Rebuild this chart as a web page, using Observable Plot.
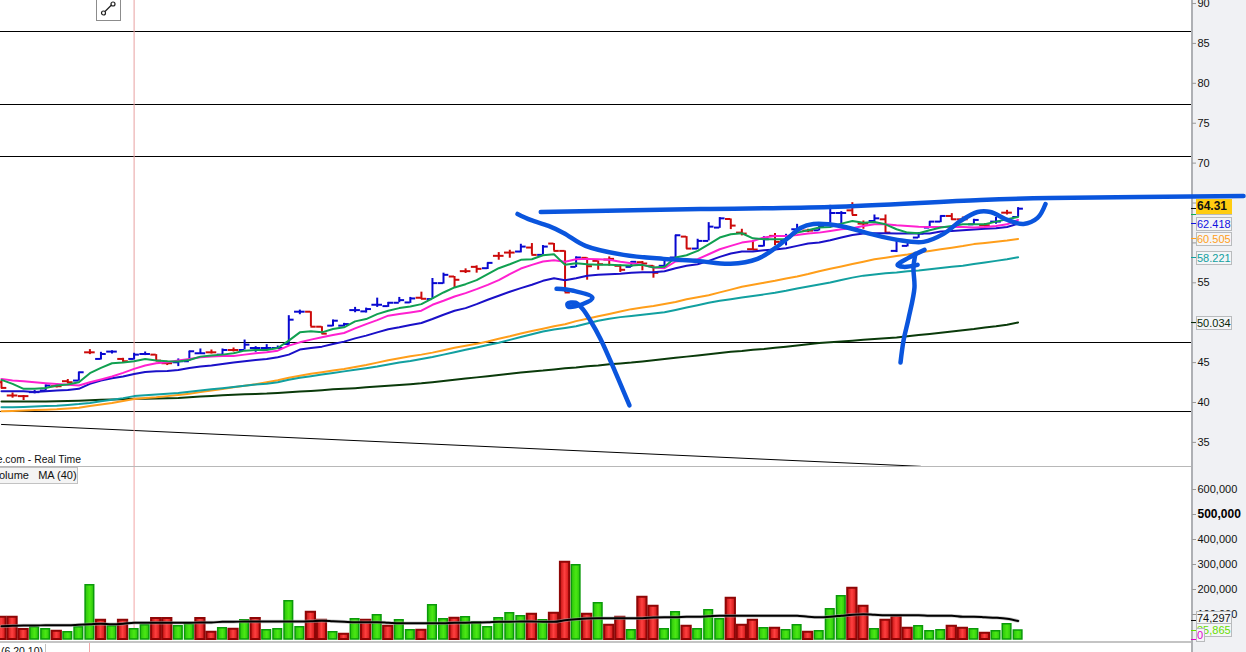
<!DOCTYPE html>
<html><head><meta charset="utf-8">
<script src="https://cdn.jsdelivr.net/npm/d3@7"></script>
<script src="https://cdn.jsdelivr.net/npm/@observablehq/plot@0.6"></script>
<style>
html,body{margin:0;padding:0;background:#fff;overflow:hidden}
#root{position:relative;width:1246px;height:652px;overflow:hidden;font-family:"Liberation Sans",Arial,sans-serif;color:#111}
#panel{position:absolute;left:1191px;top:0;width:55px;height:652px;background:#f0f1f4;border-left:2px solid #aeb0b4;box-sizing:border-box}
#priceBox,#volBox{position:absolute;left:0;width:1246px}
#priceBox{top:0;height:466px}#volBox{top:466px;height:186px}
svg{display:block;overflow:visible;background:transparent !important}
.tag{position:absolute;box-sizing:border-box;background:#f4f5f7;border:1px solid #b9bbbd;font-size:11px;line-height:12px;padding:0;white-space:nowrap;overflow:hidden;text-align:left}
.lab{position:absolute;white-space:nowrap;font-size:10.4px}
</style></head><body>
<div id="root"><div id="panel"></div><div id="priceBox"></div><div id="volBox"></div></div>
<script>
const barSide="rrrbbrrbrbbrbbrrbbbrbrbbbbbbrrbbbbbbbbrbbrrrbrrbrbrrbrrrrbrrbbrbbbrrrbrbbrbbbrrbrbbbbbrrbrbrb";
const open=[42.54,40.88,40.8,41.3,41.5,42.04,42.67,42.75,46.29,45.46,46.38,45.46,45.46,46.08,46,44.92,45.04,45.17,46.17,46.29,46,46.58,46.58,46.83,46.83,46.83,47.33,51.38,51.38,49.5,49.63,49.63,51.58,51.42,52.25,52.08,52.5,52.54,53.13,52.96,54.96,55.79,56.46,57,56.83,58.38,58.79,58.92,59.42,58.5,59.92,59,57,58.13,57.75,57.92,57.13,57,57.58,57.13,57.13,58.17,60.79,59.29,60.25,61.92,63,61.29,59.21,59.63,60.88,60.25,61.71,61.54,61.58,62.46,63.75,64.08,62.42,62.75,62.96,59,59.63,60.67,61.92,62.67,63.38,62.96,62.33,62.21,62.67,63.79,63.25];
const high=[42.75,41.2,40.88,41.5,42.2,42.33,42.88,43.79,46.63,46.29,46.5,45.54,46.17,46.33,46,45.17,45.46,46.42,46.71,46.58,46.71,46.83,47.83,47,47.25,47.08,50.88,51.58,51.38,49.5,50.33,49.92,51.92,51.83,53.08,52.54,53.17,53.17,53.83,55.54,56.21,55.79,56.75,57.13,57.5,58.79,59.08,59.83,59.92,59.67,59.92,59,58.25,58.13,57.75,58.25,57.25,57.67,57.67,57.13,57.96,60.96,60.79,60.46,62.54,63.17,63,61.71,60.25,60.79,61.17,61.08,62.33,61.71,62.13,64.71,63.92,65.04,62.75,63.5,63.5,60.25,60.13,61.29,62.67,63.38,63.67,63.25,62.96,62.42,63.17,64.08,64.42];
const low=[41.7,40.54,40.25,41.08,41.42,41.83,42.33,42.67,46,45.33,46.08,45.04,45.33,45.88,45.17,44.63,44.5,45.17,46.08,46.08,45.88,46.33,46.58,46.29,46.58,46.71,47.13,51,49.5,48.58,49.5,49.5,51.25,51.21,51.92,51.92,52.5,52.42,52.92,52.92,54.83,54.33,56.17,56.21,56.67,57.83,58.08,58.75,58.5,58.5,59,53.79,56.92,55.33,56.58,57.08,56.29,56.92,56.5,55.58,57,58.17,59.21,59.17,60.25,61.83,61.67,60.88,59.08,59.5,59.63,59.63,61.29,61.29,61.5,62.46,62.33,63.5,61.71,62.54,61.17,58.79,59.5,60.58,61.83,62.54,62.83,62.67,62.21,62,62.33,63.5,63.17];
const close=[41.83,40.88,40.8,41.3,42.13,42.04,42.54,43.79,46.29,46.08,46.38,45.17,46,46.08,45.25,44.92,45.17,46.42,46.17,46.29,46.58,46.58,47.25,46.83,46.83,46.83,50.38,51.38,49.5,48.63,50.25,49.83,51.58,51.71,52.25,52.5,52.83,53.04,53,54.96,56,55.38,56.46,56.75,57.5,58.38,58.79,59.54,58.5,59.54,59,53.79,58.17,57.08,57.33,58,56.63,57.63,57.42,56.25,57.83,60.96,59.29,60.25,62.04,63.08,62.17,61.17,59.17,60.46,60.13,60.67,61.71,61.54,62,63.75,63.75,63.5,62.42,63.08,61.29,60.25,60.13,61.17,62.67,63.38,62.96,62.96,62.88,62.21,62.67,63.79,64.29];

const maGreen=[42.83,42.33,41.71,41.71,41.83,42.13,42.25,42.54,43.67,44.33,44.92,45,45.17,45.46,45.25,45.17,45.13,45.33,45.75,45.88,46,46.17,46.5,46.58,46.58,46.83,47.75,48.79,48.92,48.79,49.21,49.42,50.17,50.46,51.08,51.5,51.83,52.04,52.33,53.04,53.79,54.42,54.83,55.33,56.08,56.83,57.33,57.88,57.96,58.46,58.58,57.25,57.46,57.33,57.25,57.25,57.21,57.17,57.25,56.92,57,58.17,58.46,59,59.83,60.67,61.08,61.21,60.58,60.46,60.46,60.46,61.29,61.58,61.92,62,62.42,62.75,62.54,62.63,62.33,61.71,61.29,61.21,61.58,61.92,62.13,62.33,62.33,62.33,62.67,62.96,63.25];
const maMagenta=[42.96,42.75,42.67,42.54,42.42,42.33,42.21,42.13,42.54,42.88,43.25,43.71,44.21,44.63,44.92,45.04,45.25,45.46,45.67,45.75,45.83,45.83,46,46.17,46.29,46.5,47.13,47.54,47.88,48.17,48.46,48.71,49.29,49.83,50.33,50.88,51.08,51.29,51.5,52.25,52.75,53.29,53.71,54.21,54.75,55.33,56.08,56.79,57.25,57.67,57.83,57.63,57.96,58,57.96,57.88,57.63,57.46,57.25,56.92,56.83,57.67,57.75,57.96,58.58,59.21,59.63,60.04,60.25,60.67,60.88,60.88,61,61.17,61.29,61.5,61.71,61.83,62.13,62.33,62.33,62.21,62.13,62.04,62,62,62,62,61.92,62,62.13,62.33,62.88];
const maBlue=[41.42,41.42,41.42,41.33,41.42,41.5,41.58,41.71,42.33,42.75,43.04,43.25,43.58,43.83,43.92,43.96,44.08,44.33,44.5,44.63,44.83,45,45.17,45.33,45.46,45.67,46,46.63,46.83,47,47.33,47.63,48.04,48.38,48.79,49.17,49.42,49.71,49.96,50.46,51,51.5,51.83,52.33,52.88,53.38,53.88,54.33,54.75,55.25,55.58,55.33,55.58,55.88,56,56.08,56.13,56.25,56.33,56.33,56.46,56.83,57.13,57.33,57.75,58.25,58.67,58.92,58.92,59.08,59.17,59.33,59.63,59.92,60.04,60.33,60.67,61,61.17,61.21,61.21,61.17,61.17,61.17,61.17,61.42,61.5,61.58,61.67,61.79,61.83,62,62.42];
const maOrange=[38.9,38.95,39,39.05,39.1,39.15,39.25,39.35,39.55,39.75,39.95,40.2,40.45,40.55,40.65,40.8,40.95,41.1,41.3,41.5,41.7,41.9,42.1,42.3,42.55,42.8,43.1,43.35,43.6,43.8,44,44.2,44.45,44.7,45,45.3,45.55,45.8,46,46.25,46.55,46.85,47.1,47.35,47.65,48,48.3,48.65,48.95,49.25,49.55,49.8,50.2,50.5,50.8,51.1,51.4,51.7,51.9,52.1,52.35,52.6,52.95,53.2,53.45,53.8,54.15,54.5,54.75,55,55.25,55.55,55.8,56.1,56.45,56.75,57.05,57.35,57.65,57.95,58.15,58.35,58.55,58.8,59,59.2,59.4,59.6,59.85,60,60.15,60.3,60.5];
const maTeal=[39.4,39.42,39.45,39.5,39.55,39.6,39.7,39.8,39.95,40.15,40.35,40.55,40.8,40.9,41,41.1,41.2,41.35,41.5,41.65,41.8,41.95,42.1,42.25,42.35,42.55,42.85,43.1,43.3,43.5,43.7,43.9,44.1,44.3,44.5,44.75,45,45.2,45.45,45.7,46,46.3,46.6,46.9,47.2,47.5,47.85,48.2,48.55,48.9,49.15,49.35,49.55,49.9,50.25,50.5,50.7,50.85,51,51.15,51.3,51.6,51.9,52.2,52.5,52.75,52.95,53.15,53.35,53.55,53.75,54,54.3,54.55,54.8,55.05,55.35,55.65,55.9,56.05,56.2,56.3,56.45,56.55,56.7,56.85,57,57.15,57.35,57.55,57.75,57.95,58.2];
const maDark=[40.13,40.13,40.13,40.13,40.13,40.15,40.18,40.22,40.27,40.33,40.38,40.42,40.46,40.48,40.5,40.53,40.57,40.65,40.75,40.82,40.9,40.97,41.03,41.08,41.12,41.2,41.3,41.38,41.45,41.55,41.65,41.72,41.8,41.9,42,42.1,42.2,42.3,42.4,42.55,42.7,42.85,43,43.15,43.3,43.45,43.6,43.75,43.9,44,44.15,44.3,44.4,44.55,44.65,44.8,44.9,45,45.15,45.3,45.45,45.6,45.75,45.9,46.05,46.2,46.35,46.45,46.6,46.7,46.85,47,47.15,47.3,47.45,47.55,47.65,47.75,47.85,47.95,48.05,48.15,48.3,48.45,48.6,48.75,48.9,49.05,49.2,49.4,49.55,49.75,50.03];

const volSide="rrrggrgggrgrggrrggrrgrgrggggrrgrgrgrggrggrggggggrgrrgrgrrgrrggrgggrrrgrggrgggrrgrrrgggrrgrggg";
const volumeK=[89,89,40,49,41,33,29,49,217,77,53,77,41,57,84,84,53,61,84,29,45,41,77,84,37,41,153,49,109,77,29,21,81,77,97,53,77,37,37,137,81,85,89,69,49,85,105,93,101,77,105,309,297,101,145,57,89,37,169,133,41,109,53,41,117,81,165,57,77,45,45,37,57,29,33,121,173,205,133,41,77,93,45,53,33,37,53,45,41,25,33,61,36];
const volMaK=[53,55,56,56,57,57,57,59,61,63,61,63,67,67,67,67,67,67,68,68,71,71,72,72,72,72,72,72,73,75,73,71,69,69,69,67,65,65,65,65,65,67,67,68,69,71,71,72,72,71,71,77,81,84,85,85,85,85,85,88,89,89,91,91,93,95,95,95,95,95,95,95,95,91,89,91,95,99,101,99,97,97,97,97,95,95,95,91,91,89,87,83,74.3];

const levels=[86.495,77.346,70.829,47.518,38.87];
const trendK=[0,83.17];const trendP=[37.25,32];
const priceTicks=[35,40,45,50,55,60,65,70,75,80,85,90];
const volTicks=[100000,200000,300000,400000,600000];

const inkTopK=[48.8,63.26,75.02,88.6,94.9,112.4];
const inkTopP=[63.88,64.25,64.5,65.38,65.63,65.88];
const inkWaveK=[46.7,47.87,49.5,50.86,52.85,56.3,59.91,62.99,65.97,68.42,70.05,71.4,72.3,73.48,75.93,78.64,81.09,83.44,85.25,86.79,88.33,89.5,91.04,92.49,93.76,94.48];
const inkWaveP=[63.63,62.88,62.13,61.25,59.63,58.5,58,57.75,57.38,58,59.38,60.88,61.88,62.38,62.13,61.13,60.38,60.13,61.13,62.75,63.88,63.88,62.88,62.38,63.13,64.88];
const inkArrowK=[50.23,51.76,53.48,52.67,51.31,51.22,51.95,52.58,53.3,54.2,55.57,56.83];
const inkArrowP=[54.25,54,53.13,52.38,52,52.38,52.5,51.75,50.25,48,43.75,39.63];
const inkFourK=[83.53,82.08,81.09,81.63,82.9];
const inkFourP=[59.13,58.13,57.25,57,57.25];
const inkStemK=[82.71,82.53,82.62,82.08,81.63,81.36];
const inkStemP=[58.63,56.88,54.38,50.5,47.75,45];

const priceTags=[
 {v:63.6,t:"63.909",c:"#10b050",off:-6},
 {v:62.418,t:"62.418",c:"#1010e0",off:1},
 {v:60.505,t:"60.505",c:"#ff9e1a",off:1},
 {v:58.221,t:"58.221",c:"#10a0a0",off:1},
 {v:50.034,t:"50.034",c:"#0a2a0a",off:1},
 {v:64.31,t:"64.31",c:"#111",off:-2,bold:true,bg:"#ffcc10"}];
const volTags=[
 {v:74297,t:"74,297",c:"#111",off:-2},
 {v:35865,t:"35,865",c:"#66dd00",off:0},
 {v:0,t:"0",c:"#e000d0",off:-4,w:9}];

const idx=d3.range(open.length);
const pitch=11.05;
const xDomain=[-1/pitch,(1191-1)/pitch];
const pts=(k,p)=>k.map((d,i)=>({k:d,p:p[i]}));
const maLine=(arr,stroke)=>Plot.line(idx,{x:i=>i,y:i=>arr[i],stroke,strokeWidth:2});
const ink=(k,p)=>Plot.line(pts(k,p),{x:"k",y:"p",stroke:"#0a55dd",strokeWidth:4.5,curve:"catmull-rom",strokeLinecap:"round"});
const sideColor=i=>barSide[i]==="b"?"#0808d0":"#cc0a0a";

const pricePlot=Plot.plot({
  width:1246,height:466,marginLeft:0,marginRight:55,marginTop:0,marginBottom:0,
  style:{fontFamily:"'Liberation Sans',Arial,sans-serif",fontSize:"11px",background:"transparent",overflow:"visible"},
  x:{domain:xDomain,axis:null},
  y:{domain:[31.98,90.38],axis:null},
  marks:[
    Plot.ruleY(levels,{stroke:"#000",strokeWidth:1}),
    Plot.line(pts(trendK,trendP),{x:"k",y:"p",stroke:"#000",strokeWidth:1}),
    Plot.ruleX([12],{stroke:"#e8a0a0",strokeWidth:1}),
    Plot.ruleX(idx,{x:i=>i,y1:i=>low[i],y2:i=>high[i],stroke:sideColor,strokeWidth:2}),
    Plot.ruleY(idx,{x1:i=>i-0.48,x2:i=>i,y:i=>open[i],stroke:sideColor,strokeWidth:2}),
    Plot.ruleY(idx,{x1:i=>i,x2:i=>i+0.48,y:i=>close[i],stroke:sideColor,strokeWidth:2}),
    maLine(maDark,"#0a3a0a"),
    maLine(maOrange,"#ff9e1a"),
    maLine(maTeal,"#12a0a0"),
    maLine(maBlue,"#1a10c8"),
    maLine(maMagenta,"#ff20d0"),
    maLine(maGreen,"#10a050"),
    ink(inkTopK,inkTopP),ink(inkWaveK,inkWaveP),ink(inkArrowK,inkArrowP),ink(inkFourK,inkFourP),ink(inkStemK,inkStemP),
    Plot.axisY({anchor:"right",ticks:priceTicks,tickSize:4,tickPadding:2,stroke:"#999",fill:"#111",fontSize:11,tickFormat:d=>d,label:null})
  ]});
document.getElementById("priceBox").append(pricePlot);

const volumes=idx.map(i=>({i,v:volumeK[i]*1000,s:volSide[i]}));
const volPlot=Plot.plot({
  width:1246,height:186,marginLeft:0,marginRight:55,marginTop:0,marginBottom:13,
  style:{fontFamily:"'Liberation Sans',Arial,sans-serif",fontSize:"11px",background:"transparent",overflow:"visible"},
  x:{domain:xDomain,axis:null},
  y:{domain:[0,692000],axis:null},
  marks:[
    Plot.ruleX([12],{stroke:"#f2a6a6",strokeWidth:1,y1:0,y2:692000}),
    Plot.rectY(volumes.filter(d=>d.s==="g"),{x1:d=>d.i-0.39,x2:d=>d.i+0.39,y1:0,y2:"v",fill:"url(#gUp)",stroke:"#0a9a0a",strokeWidth:1.5}),
    Plot.rectY(volumes.filter(d=>d.s==="r"),{x1:d=>d.i-0.42,x2:d=>d.i+0.42,y1:0,y2:"v",fill:"url(#gDown)",stroke:"#8e0606",strokeWidth:2}),
    Plot.line(idx,{x:i=>i,y:i=>volMaK[i]*1000,stroke:"#aaa",strokeWidth:3.5,strokeOpacity:0.6,curve:"monotone-x"}),
    Plot.line(idx,{x:i=>i,y:i=>volMaK[i]*1000,stroke:"#000",strokeWidth:2,curve:"monotone-x"}),
    Plot.axisY({anchor:"right",ticks:volTicks,tickSize:4,tickPadding:2,stroke:"#999",fill:"#111",fontSize:11,tickFormat:d3.format(","),label:null}),
    Plot.axisY({anchor:"right",ticks:[500000],tickSize:4,tickPadding:2,stroke:"#999",fill:"#000",fontSize:12,fontWeight:"bold",tickFormat:d3.format(","),label:null})
  ]});
const defs=document.createElementNS("http://www.w3.org/2000/svg","defs");
defs.innerHTML=`<linearGradient id="gDown" x1="0" x2="1" y1="0" y2="0"><stop offset="0" stop-color="#c01010"/><stop offset="0.5" stop-color="#ff4040"/><stop offset="1" stop-color="#cc1414"/></linearGradient>
<linearGradient id="gUp" x1="0" x2="1" y1="0" y2="0"><stop offset="0" stop-color="#2cc40a"/><stop offset="0.55" stop-color="#4ae814"/><stop offset="1" stop-color="#2cc40a"/></linearGradient>`;
volPlot.prepend(defs);
document.getElementById("volBox").append(volPlot);

const root=document.getElementById("root");
function el(cls,css,txt){const d=document.createElement("div");d.className=cls;d.style.cssText=css;if(txt!==undefined)d.textContent=txt;root.append(d);return d;}
function addTags(tags,scale,top){
  for(const t of tags){
    const y=top+scale.apply(t.v);
    el("",`position:absolute;left:1191px;top:${Math.round(y)}px;width:6px;height:1px;background:${t.c}`);
  }
  for(const t of tags){
    const y=top+scale.apply(t.v)+t.off;
    el("tag",`left:1196px;top:${Math.round(y-7)}px;width:${t.w||36}px;height:${t.bold?15:14}px;color:${t.c};${t.bold?"font-weight:bold;font-size:12px;line-height:13px;":""}${t.bg?`background:${t.bg};border-color:${t.bg};`:""}`,t.t);
  }
}
addTags(priceTags,pricePlot.scale("y"),0);
addTags(volTags,volPlot.scale("y"),466);

el("",`position:absolute;left:0;top:466px;width:1191px;height:1px;background:#b8b8b8`);
el("",`position:absolute;left:0;top:641px;width:1191px;height:2px;background:#c4c4c4`);
el("",`position:absolute;left:89px;top:643px;width:1px;height:9px;background:#f2a6a6`);
el("lab",`right:${1246-81}px;top:454px;color:#111`,"e.com - Real Time");
el("",`position:absolute;left:-2px;top:467px;width:80px;height:17px;box-sizing:border-box;background:#f4f4f4;border:1px solid #c2c2c2;font-size:11px;line-height:15px;text-align:right;padding-right:2px;white-space:pre;color:#111`,"olume   MA (40)");
el("",`position:absolute;left:-2px;top:644px;width:48px;height:12px;box-sizing:border-box;border-right:1px solid #c2c2c2;font-size:10.5px;line-height:14px;text-align:right;padding-right:2px;color:#111;white-space:pre`,"(6,20,10)");
const btn=el("",`position:absolute;left:96px;top:-3px;width:25px;height:24px;box-sizing:border-box;background:#fff;border:1px solid #8c8c8c`);
btn.innerHTML=`<svg width="23" height="22"><line x1="7" y1="14.5" x2="15.5" y2="6" stroke="#222" stroke-width="1.2"/><circle cx="6.5" cy="15" r="2" fill="#fff" stroke="#222" stroke-width="1.2"/><circle cx="16" cy="6" r="2" fill="#fff" stroke="#222" stroke-width="1.2"/></svg>`;
</script></body></html>
